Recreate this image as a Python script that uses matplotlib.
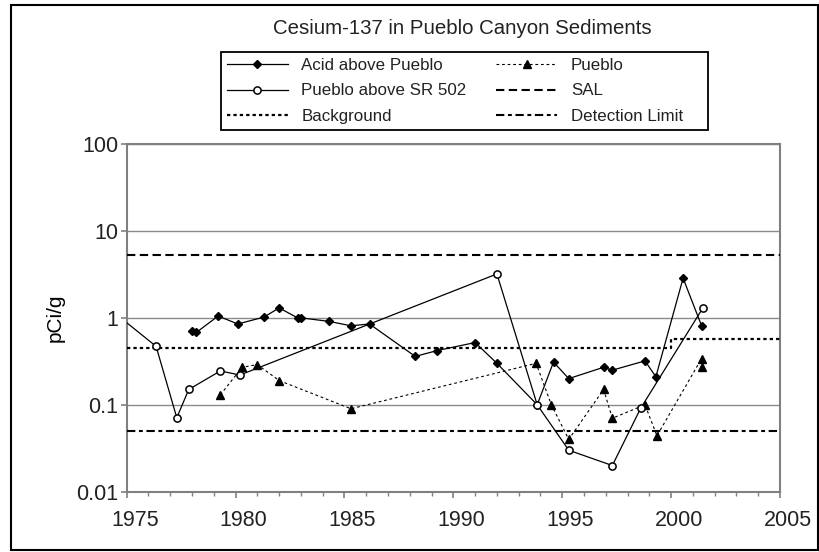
import matplotlib
matplotlib.use('Agg')
import matplotlib.pyplot as plt
import matplotlib.ticker as mticker
import matplotlib.transforms as mtransforms
from matplotlib.patches import Rectangle

plt.rcParams['font.family'] = ['Liberation Sans', 'DejaVu Sans']
plt.rcParams['lines.scale_dashes'] = False
plt.rcParams['text.color'] = '#222222'
plt.rcParams['xtick.color'] = '#808080'
plt.rcParams['ytick.color'] = '#808080'
plt.rcParams['xtick.labelcolor'] = '#222222'
plt.rcParams['ytick.labelcolor'] = '#222222'

# Cs-137 results (pCi/g) by sample year
acid_year = [1978.0, 1978.2, 1979.2, 1980.1, 1981.3, 1982.0, 1982.85, 1983.0,
             1984.3, 1985.3, 1986.15, 1988.25, 1989.25, 1991.0, 1992.0,
             1993.85, 1994.6, 1995.3, 1996.9, 1997.3, 1998.8, 1999.3,
             2000.55, 2001.4]
acid_val = [0.71, 0.68, 1.05, 0.85, 1.02, 1.30, 1.0, 1.0,
            0.91, 0.81, 0.85, 0.36, 0.42, 0.52, 0.30,
            0.10, 0.31, 0.20, 0.27, 0.25, 0.32, 0.21,
            2.86, 0.81]

sr502_year = [1974.0, 1976.35, 1977.3, 1977.85, 1979.3, 1980.2, 1992.0,
              1993.85, 1995.3, 1997.3, 1998.6, 2001.45]
sr502_val = [1.4, 0.47, 0.071, 0.15, 0.245, 0.22, 3.2,
             0.10, 0.030, 0.020, 0.091, 1.29]

pueblo_year = [1979.3, 1980.3, 1981.0, 1982.0, 1985.3, 1993.8, 1994.5,
               1995.3, 1996.9, 1997.3, 1998.8, 1999.35, 2001.4, 2001.4]
pueblo_val = [0.13, 0.27, 0.29, 0.19, 0.09, 0.30, 0.10,
              0.04, 0.15, 0.07, 0.10, 0.044, 0.34, 0.27]

bg_year = [1975, 2000, 2000, 2005]
bg_val = [0.45, 0.45, 0.57, 0.57]

sal = 5.3
det_limit = 0.05
x_range = [1975, 2005]

fig = plt.figure(figsize=(8.2, 5.52), dpi=100)
ax = fig.add_axes([126.7 / 820, 1 - 491.7 / 552, 653.3 / 820, 347.7 / 552])

ax.plot(acid_year, acid_val, color='black', lw=0.9, marker='D', ms=4.3,
        mfc='black', mec='black', label='Acid above Pueblo', zorder=4)
ax.plot(sr502_year, sr502_val, color='black', lw=0.9, marker='o', ms=5.2,
        mfc='white', mec='black', mew=1.1, label='Pueblo above SR 502', zorder=5)
ax.plot(bg_year, bg_val, color='black', lw=1.6, ls=(0, (2.4, 2.2)),
        label='Background', zorder=3)
ax.plot(pueblo_year, pueblo_val, color='black', lw=0.8, ls=(0, (2.0, 2.0)),
        marker='^', ms=6, mfc='black', mec='black', label='Pueblo', zorder=4)
ax.plot(x_range, [sal, sal], color='black', lw=1.5, ls=(0, (6.0, 3.2)),
        label='SAL', zorder=3)
ax.plot(x_range, [det_limit, det_limit], color='black', lw=1.5,
        ls=(0, (6.0, 2.6, 2.8, 2.6)), label='Detection Limit', zorder=3)

ax.set_yscale('log')
ax.set_ylim(0.01, 100)
ax.set_xlim(1975, 2005)
ax.yaxis.set_major_locator(mticker.FixedLocator([0.01, 0.1, 1, 10, 100]))
ax.yaxis.set_major_formatter(mticker.FixedFormatter(['0.01', '0.1', '1', '10', '100']))
ax.yaxis.set_minor_locator(mticker.NullLocator())
ax.xaxis.set_major_locator(mticker.MultipleLocator(5))
ax.xaxis.set_minor_locator(mticker.MultipleLocator(1))
ax.grid(axis='y', which='major', color='#8a8a8a', lw=1.0)
ax.set_axisbelow(True)

for sp in ax.spines.values():
    sp.set_color('#808080')
    sp.set_linewidth(1.5)

ax.tick_params(axis='x', which='major', length=4, width=1.2, labelsize=15.5, pad=9)
ax.tick_params(axis='x', which='minor', length=2.8, width=1.0)
ax.tick_params(axis='y', which='major', length=4, width=1.2, labelsize=15.5, pad=2)

# year labels sit a little right of their ticks
shift = mtransforms.ScaledTranslation(0.08, 0, fig.dpi_scale_trans)
for lbl in ax.get_xticklabels():
    lbl.set_transform(lbl.get_transform() + shift)

ax.set_ylabel('pCi/g', fontsize=15)
ax.yaxis.set_label_coords(-0.095, 0.5)

fig.text(462 / 820, 1 - 29 / 552, 'Cesium-137 in Pueblo Canyon Sediments',
         ha='center', va='center', fontsize=14.7)

handles, labels = ax.get_legend_handles_labels()
leg = fig.legend(handles, labels, ncol=2, fontsize=12.2,
                 loc='upper left', bbox_to_anchor=(221 / 820, 1 - 52 / 552),
                 frameon=False, handlelength=3.6, handletextpad=0.8,
                 columnspacing=1.75, labelspacing=0.62, borderpad=0.35,
                 borderaxespad=0)

# legend box, drawn separately so its width can be set
fig.patches.append(Rectangle((221 / 820, 1 - 130 / 552), 487 / 820, 78 / 552,
                             transform=fig.transFigure, fill=False,
                             edgecolor='black', lw=1.3))

# outer chart border
fig.patches.append(Rectangle((11 / 820, 2 / 552), 807 / 820, 545 / 552,
                             transform=fig.transFigure, fill=False,
                             edgecolor='black', lw=1.5))

fig.savefig('out.png', dpi=100)
